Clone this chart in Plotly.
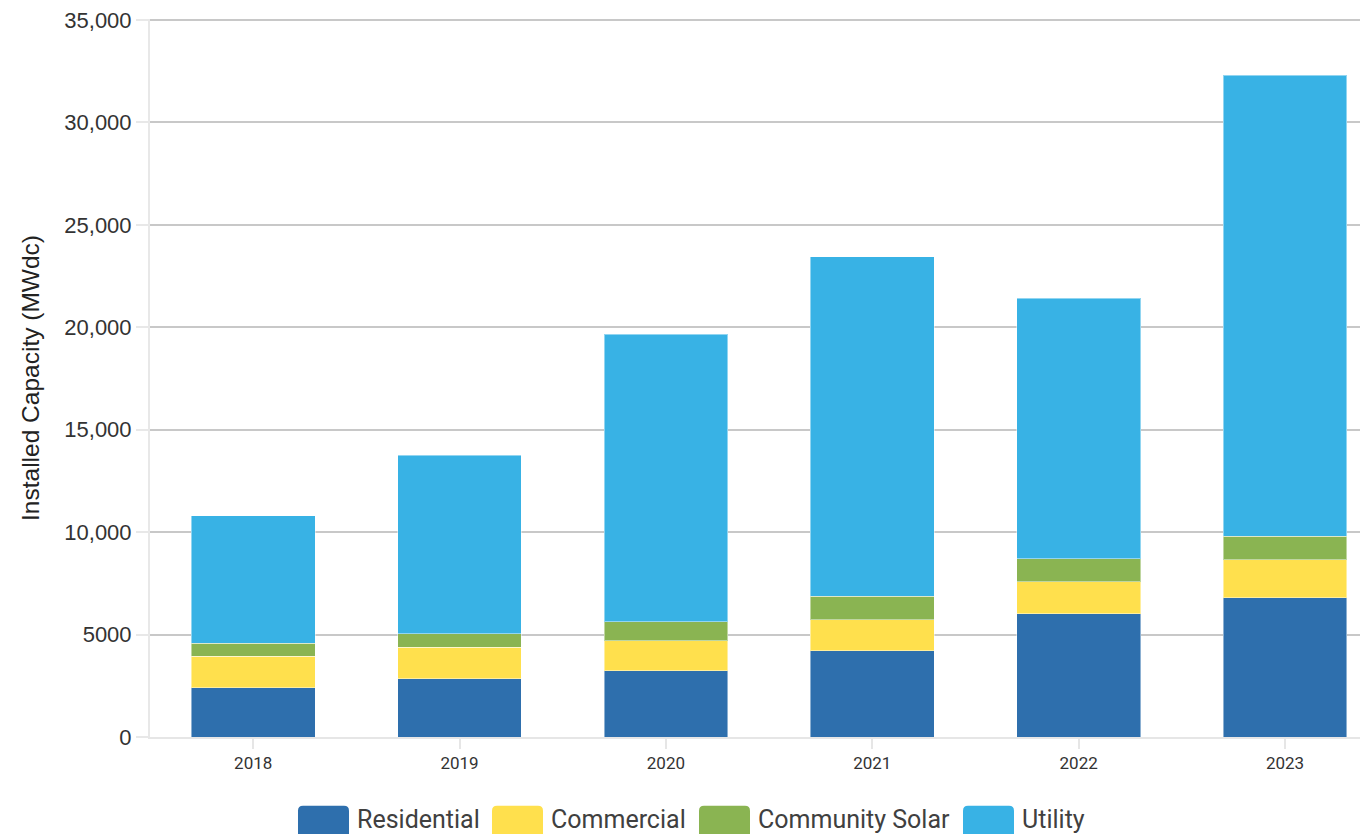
import plotly.graph_objects as go

years = ["2018", "2019", "2020", "2021", "2022", "2023"]
residential = [2400, 2850, 3240, 4220, 6020, 6810]
commercial = [1550, 1540, 1460, 1510, 1550, 1840]
community_solar = [630, 650, 920, 1150, 1120, 1150]
utility = [6230, 8720, 14030, 16570, 12720, 22500]

series_names = ["Residential", "Commercial", "Community Solar", "Utility"]
series_values = [residential, commercial, community_solar, utility]
colors = ["#2E6FAD", "#FFE04D", "#8AB452", "#38B2E5"]

y_tickvals = [0, 5000, 10000, 15000, 20000, 25000, 30000, 35000]
y_ticktext = ["0", "5000", "10,000", "15,000", "20,000", "25,000", "30,000", "35,000"]

# page body has an 8px margin, so the figure is drawn 8px right/down
OFF = 8
W, H = 1360, 826
ML, MR, MT, MB = 142, 0, 8, 97
PW = W - ML - MR
PH = H - MT - MB


def px_to_paper_x(sx):
    return (sx - OFF - ML) / PW


def px_to_paper_y(sy):
    return (H - MB - (sy - OFF)) / PH


fig = go.Figure()
for name, vals, col in zip(series_names, series_values, colors):
    fig.add_trace(go.Bar(
        x=years, y=vals, name=name,
        marker=dict(color=col, line=dict(color="rgba(255,255,255,0.45)", width=1)),
        showlegend=False,
    ))

# custom legend (rounded swatches + labels), positions in screen pixels
legend_swatch_x = [298, 492, 699, 963]
legend_text_x = [355, 549, 756, 1020]
sw_w, sw_top, sw_bot, r = 51, 806, 840, 5
shapes = []
annotations = []
for name, col, sx, tx in zip(series_names, colors, legend_swatch_x, legend_text_x):
    x0, x1, y0, y1 = sx, sx + sw_w, sw_top, sw_bot
    pts = [
        ("M", x0 + r, y0), ("L", x1 - r, y0), ("Q", x1, y0, x1, y0 + r),
        ("L", x1, y1 - r), ("Q", x1, y1, x1 - r, y1), ("L", x0 + r, y1),
        ("Q", x0, y1, x0, y1 - r), ("L", x0, y0 + r), ("Q", x0, y0, x0 + r, y0),
    ]
    path = ""
    for p in pts:
        cmd = p[0]
        coords = p[1:]
        segs = []
        for i in range(0, len(coords), 2):
            segs.append(f"{px_to_paper_x(coords[i]):.5f},{px_to_paper_y(coords[i+1]):.5f}")
        path += cmd + " ".join(segs) + " "
    path += "Z"
    shapes.append(dict(type="path", xref="paper", yref="paper", path=path,
                       fillcolor=col, line=dict(width=0), layer="above"))
    annotations.append(dict(xref="paper", yref="paper", x=px_to_paper_x(tx), y=px_to_paper_y(820),
                            xanchor="left", yanchor="middle", text=name, showarrow=False,
                            font=dict(family="Roboto", size=25, color="#404040")))

fig.update_layout(
    width=W, height=H,
    margin=dict(l=ML, r=MR, t=MT, b=MB, pad=0),
    barmode="stack", bargap=0.4,
    plot_bgcolor="white", paper_bgcolor="white",
    font=dict(family="Roboto", color="#333333"),
    shapes=shapes, annotations=annotations,
    xaxis=dict(
        type="category", range=[-0.5, 5.402],
        showline=True, linecolor="#e6e6e6", linewidth=2,
        ticks="outside", ticklen=10, tickcolor="#e6e6e6", tickwidth=2,
        showgrid=False,
        tickfont=dict(family="Roboto", size=17, color="#333333"),
    ),
    yaxis=dict(
        range=[0, 35050],
        tickvals=y_tickvals, ticktext=y_ticktext,
        ticklabeloverflow="allow",
        showline=True, linecolor="#e8e8e8", linewidth=2,
        ticks="outside", ticklen=12, tickcolor="#e8e8e8", tickwidth=2,
        showgrid=True, gridcolor="#c8c8c8", gridwidth=2,
        zeroline=False,
        tickfont=dict(family="Liberation Sans, Arial", size=22, color="#333333"),
        title=dict(text="Installed Capacity (MWdc)", standoff=18,
                   font=dict(family="Liberation Sans, Arial", size=24.5, color="#222222")),
    ),
)

fig.write_html("out.html")
